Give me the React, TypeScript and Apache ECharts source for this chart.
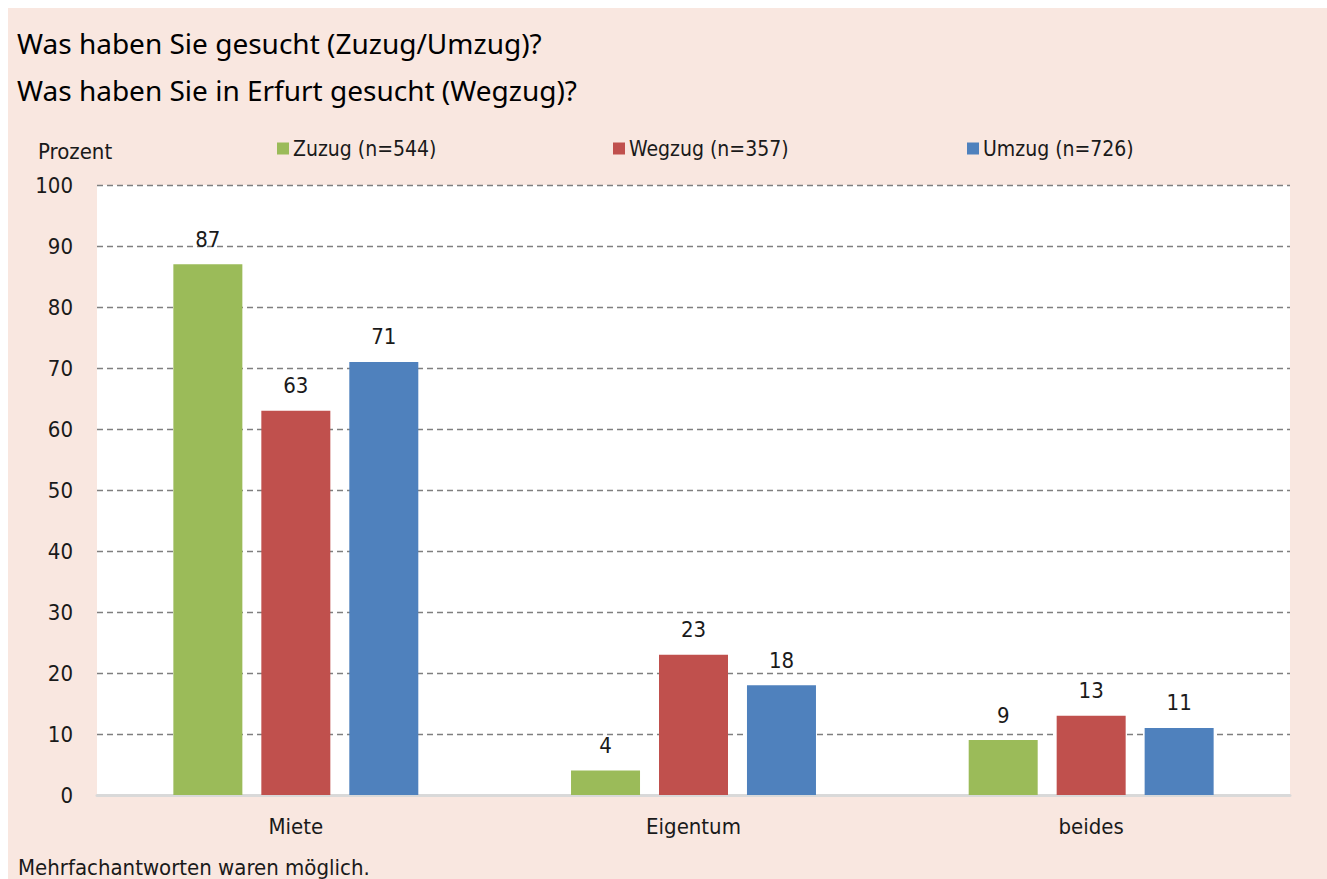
import React, { useEffect, useRef } from "react";
import * as echarts from "echarts";

const categories = ["Miete", "Eigentum", "beides"];
const zuzug = [87, 4, 9];
const wegzug = [63, 23, 13];
const umzug = [71, 18, 11];
const seriesNames = ["Zuzug (n=544)", "Wegzug (n=357)", "Umzug (n=726)"];
const colors = ["#9bbb59", "#c0504d", "#4f81bd"];
const titleLines = ["Was haben Sie gesucht (Zuzug/Umzug)?", "Was haben Sie in Erfurt gesucht (Wegzug)?"];
const yAxisTitle = "Prozent";
const footnote = "Mehrfachantworten waren möglich.";

const NARROW = "'DejaVu Sans Condensed', 'DejaVu Sans', sans-serif";
const TITLEFONT = "'Noto Sans', 'Open Sans', sans-serif";

export default function App() {
  const ref = useRef<HTMLDivElement>(null);
  useEffect(() => {
    if (!ref.current) return;
    const chart = echarts.init(ref.current, undefined, { renderer: "svg" });
    const values = [zuzug, wegzug, umzug];
    const legendLefts = [272, 608, 962];
    chart.setOption({
      animation: false,
      backgroundColor: "#ffffff",
      graphic: [
        { type: "rect", silent: true, z: -10, shape: { x: 8, y: 8, width: 1319, height: 871 }, style: { fill: "#f9e7e0" } },
        { type: "text", left: 17, top: 29, style: { text: titleLines[0], font: `28px ${TITLEFONT}`, fill: "#000" } },
        { type: "text", left: 17, top: 76, style: { text: titleLines[1], font: `28px ${TITLEFONT}`, fill: "#000" } },
        { type: "text", left: 38, top: 140, style: { text: yAxisTitle, font: `22px ${NARROW}`, fill: "#1a1a1a" } },
        { type: "text", left: 18, top: 856, style: { text: footnote, font: `22px ${NARROW}`, fill: "#1a1a1a" } },
      ],
      legend: seriesNames.map((n, i) => ({
        data: [n],
        left: legendLefts[i],
        top: 133,
        icon: "rect",
        itemWidth: 12,
        itemHeight: 12,
        itemGap: 4,
        selectedMode: false,
        textStyle: { fontFamily: NARROW, fontSize: 21, color: "#1a1a1a", padding: [0, 0, 0, -1] },
      })),
      grid: {
        left: 97,
        right: 37,
        top: 185,
        bottom: 84,
        show: true,
        backgroundColor: "#ffffff",
        borderWidth: 0,
      },
      xAxis: {
        type: "category",
        data: categories,
        axisTick: { show: false },
        axisLine: { show: true, lineStyle: { color: "#d9d9d9", width: 3 } },
        axisLabel: { fontFamily: NARROW, fontSize: 22, color: "#1a1a1a", margin: 20 },
      },
      yAxis: {
        type: "value",
        min: 0,
        max: 100,
        interval: 10,
        axisLine: { show: false },
        axisTick: { show: false },
        axisLabel: { fontFamily: NARROW, fontSize: 22, color: "#1a1a1a", margin: 24 },
        splitLine: {
          show: true,
          lineStyle: { color: "#7f7f7f", type: [6, 4], width: 1.3 },
        },
      },
      series: values.map((v, i) => ({
        name: seriesNames[i],
        type: "bar",
        data: v,
        barWidth: 69,
        barGap: "27.5%",
        itemStyle: { color: colors[i] },
        label: {
          show: true,
          position: "top",
          distance: 14,
          fontFamily: NARROW,
          fontSize: 22,
          color: "#1a1a1a",
        },
      })),
    });
    return () => chart.dispose();
  }, []);
  return <div ref={ref} style={{ position: "absolute", left: 0, top: 0, width: 1327, height: 879 }} />;
}
